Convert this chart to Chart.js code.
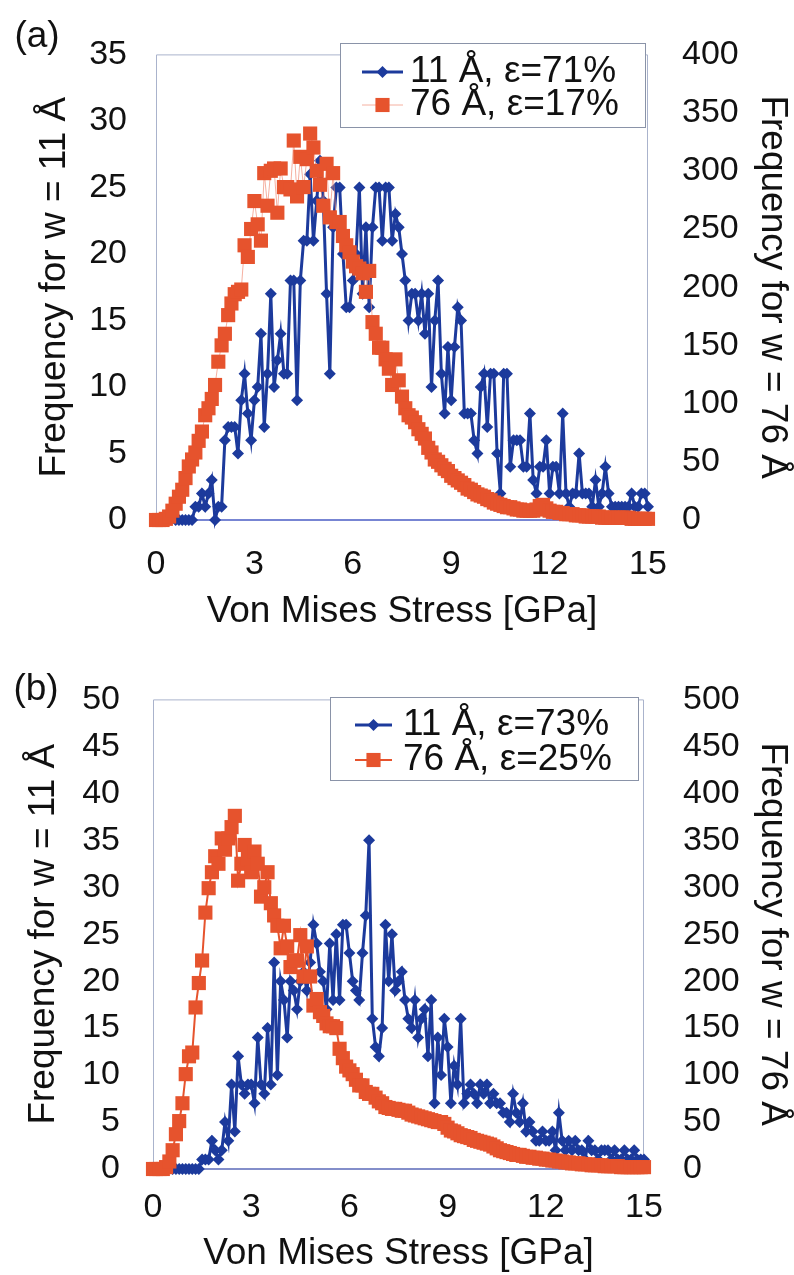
<!DOCTYPE html>
<html><head><meta charset="utf-8">
<script src="https://cdn.jsdelivr.net/npm/chart.js@4.4.0/dist/chart.umd.min.js"></script>
<style>
html,body{margin:0;padding:0;background:#fff;}
#wrap{position:relative;width:794px;height:1275px;overflow:hidden;background:#fff;}
.pane{position:absolute;left:0;width:794px;}
</style></head><body>
<div id="wrap">
  <div class="pane" style="top:0;height:640px"><canvas id="cA" width="794" height="640"></canvas></div>
  <div class="pane" style="top:640px;height:635px"><canvas id="cB" width="794" height="635"></canvas></div>
</div>
<script>
// ---------------- DATA ----------------
const BIN = 0.1;                       // GPa per histogram bin
const xTicks = [0, 3, 6, 9, 12, 15];
const yLeftTicksA = [0, 5, 10, 15, 20, 25, 30, 35];
const yRightTicksA = [0, 50, 100, 150, 200, 250, 300, 350, 400];
const yLeftTicksB = [0, 5, 10, 15, 20, 25, 30, 35, 40, 45, 50];
const yRightTicksB = [0, 50, 100, 150, 200, 250, 300, 350, 400, 450, 500];
const legendA = ['11 Å, ε=71%', '76 Å, ε=17%'];
const legendB = ['11 Å, ε=73%', '76 Å, ε=25%'];
const xTitle = 'Von Mises Stress [GPa]';
const yLeftTitle = 'Frequency for w = 11 Å';
const yRightTitle = 'Frequency for w = 76 Å';

// (a) w = 11 Å, bins from 0.6 GPa
const blueStartA = 0.6;
const blueA = [
  0,0,0,0,0,0,
  1,1,2,1,2,3,0,1,1,6,
  7,7,7,5,9,11,8,6,9,10,
  14,7,11,17,10,12,14,11,11,18,
  18,9,18,21,21,26,21,24,27,24,
  17,11,22,25,25,20,16,16,18,20,
  25,17,22,16,22,25,25,21,25,25,
  21,23,22,20,18,15,17,17,15,17,
  14,17,10,15,18,11,8,13,9,13,
  16,15,8,8,8,6,5,10,11,7,
  11,11,5,2,11,11,4,6,6,6,
  4,4,8,3,2,4,4,6,2,4,
  4,2,8,2,1,2,2,5,2,2,
  2,1,3,1,2,4,2,1,1,1,
  1,1,1,2,1,1,2,2,1
];
// (a) w = 76 Å, bins from 0.0 GPa
const redStartA = 0.0;
const redA = [
  0,0,0,1,3,8,14,20,26,36,
  46,52,58,68,76,90,96,104,116,136,
  150,160,176,186,194,196,198,236,226,250,
  274,254,240,298,270,300,302,264,302,286,
  286,284,326,278,312,286,310,332,320,300,
  288,270,306,260,298,256,256,244,236,230,
  222,218,216,212,196,214,170,160,148,148,
  138,130,116,138,120,106,96,90,88,84,
  78,74,70,62,58,52,50,47,44,42,
  38,36,34,32,30,27,26,24,22,21,
  20,18,17,15,14,13,12,11,11,10,
  9,9,8,8,8,8,9,12,13,10,
  8,7,7,6,6,5,5,5,4,4,
  4,3,3,3,3,3,2,2,2,2,
  2,2,2,2,2,1,1,1,1,1,
  1
];
// (b) w = 11 Å, bins from 0.6 GPa
const blueStartB = 0.6;
const blueB = [
  0,0,0,0,0,0,
  0,0,0,1,1,1,3,2,1,2,
  5,3,9,4,12,9,8,9,9,7,
  14,9,8,15,9,22,10,20,18,14,
  20,19,17,20,21,19,22,26,24,21,
  20,17,24,18,25,18,26,26,23,20,
  19,18,23,27,35,16,13,12,15,26,
  20,25,19,20,21,18,16,15,18,14,
  16,17,12,18,7,14,10,16,13,7,
  11,9,16,7,8,9,8,7,9,8,
  9,7,8,7,7,6,6,5,8,6,
  5,7,4,5,4,3,3,4,3,3,
  4,2,6,3,2,3,2,3,2,2,
  1,3,2,2,1,2,2,2,1,2,
  1,1,2,1,1,2,1,1,1
];
// (b) w = 76 Å, bins from 0.0 GPa
const redStartB = 0.0;
const redB = [
  0,0,0,0,2,8,20,37,51,70,
  101,120,124,172,198,222,273,299,316,333,
  325,352,340,352,364,376,307,325,345,330,
  316,338,325,290,300,316,283,270,259,235,
  259,237,215,222,222,249,205,237,205,174,
  181,167,163,155,152,152,150,128,118,109,
  105,101,95,89,89,82,80,80,76,72,
  70,66,65,64,64,63,62,62,60,58,
  57,56,55,54,53,52,51,50,50,48,
  44,41,40,38,36,35,34,33,31,30,
  29,28,27,26,24,22,20,19,18,17,
  16,15,15,14,13,13,12,12,11,11,
  10,10,9,9,8,8,7,7,6,6,
  6,5,5,5,4,4,4,4,3,3,
  3,3,3,2,2,2,2,2,2,2,
  2
];

// ---------------- STYLE ----------------
const FONT = '"Liberation Sans", Arial, Helvetica, sans-serif';
const BLUE = '#1c3a9c';
const RED = '#e6532d';
const TXT = '#111111';
const TICK_SIZE = 34;
const TITLE_SIZE = 37;

function pts(start, vals) {
  return vals.map((v, i) => ({ x: Math.round((start + i * BIN) * 10) / 10, y: v }));
}
function setTicks(arr) { return (s) => { s.ticks = arr.map(v => ({ value: v })); }; }

function drawMarker(ctx, style, x, y, r, color) {
  ctx.fillStyle = color;
  ctx.beginPath();
  if (style === 'rectRot') {
    ctx.moveTo(x, y - r); ctx.lineTo(x + r, y); ctx.lineTo(x, y + r); ctx.lineTo(x - r, y);
  } else {
    const s = r * Math.SQRT1_2;
    ctx.rect(x - s, y - s, 2 * s, 2 * s);
  }
  ctx.closePath();
  ctx.fill();
}

const framePlugin = {
  id: 'frame',
  beforeDatasetsDraw(chart, args, o) {
    const { left, right, top, bottom } = chart.chartArea;
    const ctx = chart.ctx;
    ctx.save();
    ctx.strokeStyle = o.color; ctx.lineWidth = 1;
    ctx.beginPath();
    ctx.moveTo(left + 0.5, bottom); ctx.lineTo(left + 0.5, top + 0.5);
    ctx.lineTo(right - 0.5, top + 0.5); ctx.lineTo(right - 0.5, bottom);
    ctx.stroke();
    ctx.strokeStyle = o.axisColor; ctx.lineWidth = o.axisWidth;
    ctx.beginPath(); ctx.moveTo(left, bottom); ctx.lineTo(right, bottom); ctx.stroke();
    ctx.restore();
  }
};

const legendPlugin = {
  id: 'boxLegend',
  afterDraw(chart, args, o) {
    const ctx = chart.ctx;
    ctx.save();
    ctx.fillStyle = '#fff';
    ctx.fillRect(o.x, o.y, o.w, o.h);
    ctx.strokeStyle = o.borderColor; ctx.lineWidth = 1;
    ctx.strokeRect(o.x + 0.5, o.y + 0.5, o.w, o.h);
    o.items.forEach((it, i) => {
      const ds = chart.data.datasets[it.ds];
      const cy = o.rowY[i];
      ctx.strokeStyle = ds.borderColor; ctx.lineWidth = ds.borderWidth;
      ctx.beginPath(); ctx.moveTo(o.lineX0, cy); ctx.lineTo(o.lineX1, cy); ctx.stroke();
      drawMarker(ctx, ds.pointStyle, (o.lineX0 + o.lineX1) / 2, cy, ds.pointRadius, ds.pointBackgroundColor);
      ctx.fillStyle = TXT; ctx.font = o.fontSize + 'px ' + FONT;
      ctx.textAlign = 'left'; ctx.textBaseline = 'middle';
      ctx.fillText(it.text, o.textX, cy);
    });
    // panel letter
    ctx.font = o.panelSize + 'px ' + FONT;
    ctx.fillStyle = TXT; ctx.textAlign = 'center'; ctx.textBaseline = 'middle';
    ctx.fillText(o.panel, o.panelX, o.panelY);
    ctx.restore();
  }
};

function build(id, g) {
  const tickFont = { family: FONT, size: TICK_SIZE };
  const titleFont = { family: FONT, size: TITLE_SIZE };
  return new Chart(document.getElementById(id), {
    type: 'line',
    data: {
      datasets: [
        { label: g.labels[1], data: pts(g.redStart, g.red), yAxisID: 'y2',
          borderColor: g.redLine, borderWidth: g.redLineWidth, pointStyle: 'rect', pointRadius: 10,
          pointBackgroundColor: RED, pointBorderWidth: 0, pointHoverRadius: 10, order: 0, clip: false, tension: 0 },
        { label: g.labels[0], data: pts(g.blueStart, g.blue), yAxisID: 'y',
          borderColor: BLUE, borderWidth: 3, pointStyle: 'rectRot', pointRadius: 6,
          pointBackgroundColor: BLUE, pointBorderWidth: 0, pointHoverRadius: 6, order: 1, clip: false, tension: 0 }
      ]
    },
    options: {
      responsive: false, animation: false, events: [],
      layout: { padding: { top: g.top, left: 0, right: 0, bottom: 0 } },
      plugins: {
        legend: { display: false }, tooltip: { enabled: false },
        frame: { color: '#aab3cc', axisColor: g.axisColor, axisWidth: 1.5 },
        boxLegend: g.legend
      },
      scales: {
        x: {
          type: 'linear', min: 0, max: 15, afterBuildTicks: setTicks(xTicks),
          afterFit: (s) => { s.height = g.xH; },
          grid: { display: false, drawTicks: false }, border: { display: false },
          ticks: { padding: g.xTickPad, font: tickFont, color: TXT, maxRotation: 0, autoSkip: false },
          title: { display: true, text: xTitle, font: titleFont, color: TXT, padding: { top: 0, bottom: g.xTitlePad } }
        },
        y: {
          position: 'left', min: 0, max: g.leftTicks[g.leftTicks.length - 1], afterBuildTicks: setTicks(g.leftTicks),
          afterFit: (s) => { s.width = g.yLW; },
          grid: { display: false, drawTicks: false }, border: { display: false },
          ticks: { padding: g.yLTickPad, font: tickFont, color: TXT, autoSkip: false },
          title: { display: true, text: yLeftTitle, font: titleFont, color: TXT, padding: { top: g.yLTitlePad, bottom: 0 } }
        },
        y2: {
          position: 'right', min: 0, max: g.rightTicks[g.rightTicks.length - 1], afterBuildTicks: setTicks(g.rightTicks),
          afterFit: (s) => { s.width = g.yRW; },
          grid: { display: false, drawTicks: false }, border: { display: false },
          ticks: { padding: g.yRTickPad, font: tickFont, color: TXT, autoSkip: false },
          title: { display: true, text: yRightTitle, font: titleFont, color: TXT, padding: { top: g.yRTitlePad, bottom: 0 } }
        }
      }
    },
    plugins: [framePlugin, legendPlugin]
  });
}

build('cA', {
  labels: legendA, blue: blueA, blueStart: blueStartA, red: redA, redStart: redStartA,
  redLine: 'rgba(242,150,130,0.75)', redLineWidth: 1, axisColor: '#4a5cc4',
  leftTicks: yLeftTicksA, rightTicks: yRightTicksA,
  top: 34, xH: 120, yLW: 156, yRW: 146,
  xTickPad: 24, xTitlePad: 6, yLTickPad: 29, yLTitlePad: 33, yRTickPad: 34, yRTitlePad: 0,
  legend: { x: 340, y: 43, w: 305, h: 84, borderColor: '#8a93a8', rowY: [72, 105],
            lineX0: 362, lineX1: 403, textX: 410, fontSize: 37,
            items: [{ ds: 1, text: legendA[0] }, { ds: 0, text: legendA[1] }],
            panel: '(a)', panelX: 37, panelY: 37, panelSize: 37 }
});

build('cB', {
  labels: legendB, blue: blueB, blueStart: blueStartB, red: redB, redStart: redStartB,
  redLine: RED, redLineWidth: 2, axisColor: '#5a68b8',
  leftTicks: yLeftTicksB, rightTicks: yRightTicksB,
  top: 43, xH: 106, yLW: 153, yRW: 150,
  xTickPad: 18, xTitlePad: -1, yLTickPad: 33, yLTitlePad: 22, yRTickPad: 39, yRTitlePad: 0,
  legend: { x: 330, y: 57, w: 308, h: 83, borderColor: '#8a93a8', rowY: [85, 120],
            lineX0: 355, lineX1: 392, textX: 403, fontSize: 37,
            items: [{ ds: 1, text: legendB[0] }, { ds: 0, text: legendB[1] }],
            panel: '(b)', panelX: 36, panelY: 50, panelSize: 37 }
});
</script>
</body></html>
